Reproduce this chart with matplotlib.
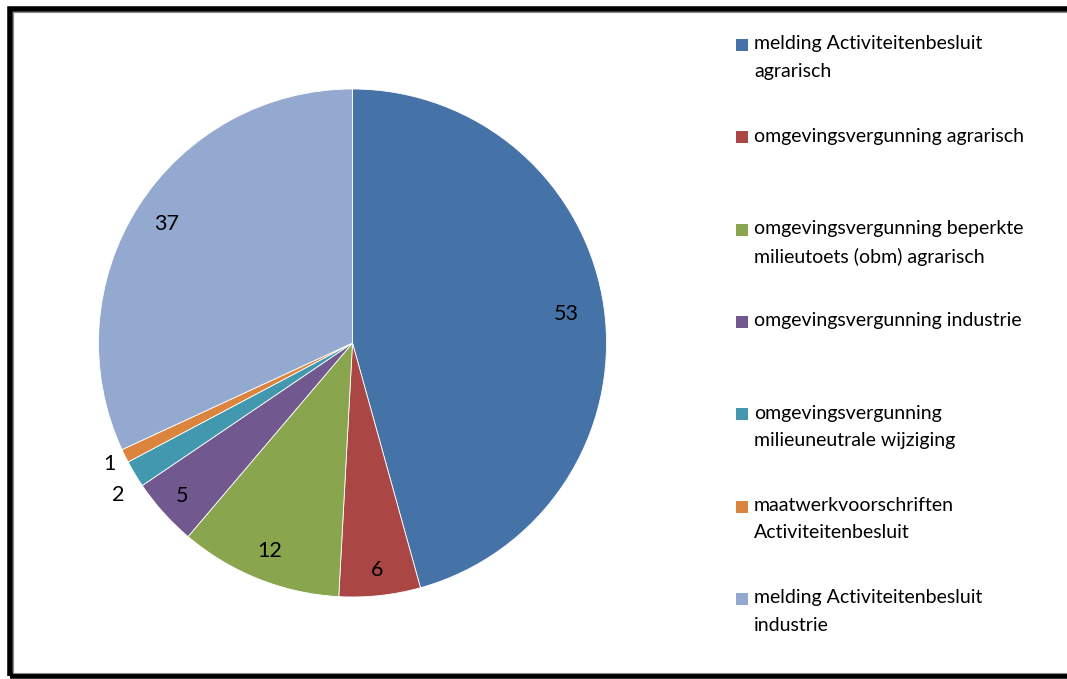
import numpy as np
import matplotlib
matplotlib.use('Agg')
import matplotlib.pyplot as plt
from matplotlib.patches import Rectangle

# Data
categorieen = ['melding Activiteitenbesluit\nagrarisch',
               'omgevingsvergunning agrarisch',
               'omgevingsvergunning beperkte\nmilieutoets (obm) agrarisch',
               'omgevingsvergunning industrie',
               'omgevingsvergunning\nmilieuneutrale wijziging',
               'maatwerkvoorschriften\nActiviteitenbesluit',
               'melding Activiteitenbesluit\nindustrie']
aantallen = [53, 6, 12, 5, 2, 1, 37]
kleuren = ['#4572A7', '#AA4643', '#89A54E', '#71588F', '#4198AF', '#DB843D', '#93A9CF']

plt.rcParams['font.family'] = ['Lato', 'DejaVu Sans']

fig = plt.figure(figsize=(10.67, 6.79), dpi=100)
W, H = 1067, 679

# taart: middelpunt ~ (352, 343), straal ~ 254 px
cx, cy, r = 352.5, 343, 254
ax = fig.add_axes([(cx - r) / W, 1 - (cy + r) / H, 2 * r / W, 2 * r / H])
wedges, _ = ax.pie(aantallen, colors=kleuren, startangle=90, counterclock=False,
                   wedgeprops=dict(edgecolor='white', linewidth=0.6))
ax.set_xlim(-1, 1)
ax.set_ylim(-1, 1)
ax.set_aspect('equal')

# labels op de taart (kleine waarden buiten)
afstanden = [0.85, 0.90, 0.88, 0.90, 1.10, 1.07, 0.87]
for w, n, d in zip(wedges, aantallen, afstanden):
    hoek = np.deg2rad((w.theta1 + w.theta2) / 2 + (2 if n == 2 else 0))
    ax.text(d * np.cos(hoek), d * np.sin(hoek), str(n), ha='center', va='center',
            fontsize=15.5, color='black')

# legenda met de hand
y_start = 45
stap = 92.3
for i, (lab, kl) in enumerate(zip(categorieen, kleuren)):
    y = y_start + i * stap
    fig.patches.append(Rectangle((736 / W, 1 - (y + 6) / H), 12 / W, 12 / H,
                                 transform=fig.transFigure, facecolor=kl, edgecolor='none'))
    fig.text(754 / W, 1 - (y - 9.5) / H, lab, ha='left', va='top', fontsize=14,
             linespacing=1.75, color='black')

# zwarte rand (rechterkant valt buiten beeld)
fig.patches.append(Rectangle((9.5 / W, 3.5 / H), 1.1, 1 - 12 / H,
                             transform=fig.transFigure, fill=False,
                             edgecolor='black', linewidth=4))
fig.patches.append(Rectangle((12.5 / W, 6.5 / H), 1.1, 1 - 18 / H,
                             transform=fig.transFigure, fill=False,
                             edgecolor='#888888', linewidth=0.8))

fig.savefig('out.png', dpi=100)
